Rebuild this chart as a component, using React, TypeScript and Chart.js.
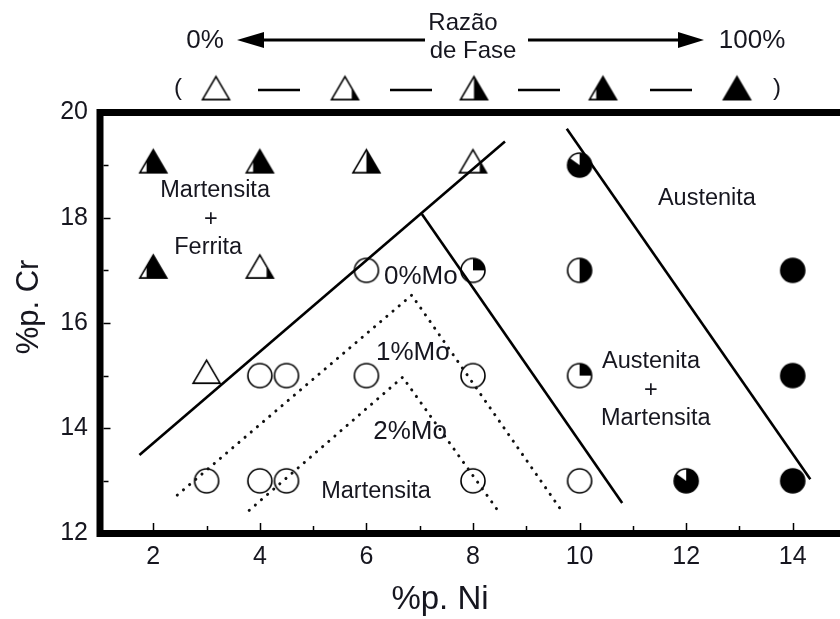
import { useEffect, useRef } from 'react';
import { Chart, registerables } from 'chart.js';

Chart.register(...registerables);

// Axis ranges (wt.%)
const niRange = [1, 15];
const crRange = [12, 20];

// Triangles: ferrite-bearing samples, fill = phase ratio
const triangleNi = [2, 4, 6, 8, 2, 4, 3];
const triangleCr = [19, 19, 19, 19, 17, 17, 15];
const triangleFill = [0.75, 0.75, 0.5, 0.25, 0.75, 0.25, 0];

// Circles: martensite / austenite samples, fill = phase ratio
const circleNi = [10, 6, 8, 10, 14, 4, 4.5, 6, 8, 10, 14, 3, 4, 4.5, 8, 10, 12, 14];
const circleCr = [19, 17, 17, 17, 17, 15, 15, 15, 15, 15, 15, 13, 13, 13, 13, 13, 13, 13];
const circleFill = [0.85, 0, 0.25, 0.5, 1, 0, 0, 0, 0, 0.25, 1, 0, 0, 0, 0, 0, 0.85, 1];

// Phase boundaries
const ferriteNi = [1.74, 8.6];
const ferriteCr = [13.49, 19.45];
const martensiteNi = [7.04, 10.8];
const martensiteCr = [18.07, 12.58];
const austeniteNi = [9.76, 14.33];
const austeniteCr = [19.69, 13.03];
const mo1Ni = [2.45, 6.85, 9.63];
const mo1Cr = [12.73, 16.53, 12.48];
const mo2Ni = [3.8, 6.68, 8.45];
const mo2Cr = [12.44, 14.97, 12.46];

// Region labels
const regionText = ['Martensita', '+', 'Ferrita', 'Austenita', 'Martensita', 'Austenita', '+', 'Martensita'];
const regionNi = [3.16, 3.08, 3.03, 12.39, 6.18, 11.34, 11.34, 11.43];
const regionCr = [18.51, 17.96, 17.44, 18.36, 12.79, 15.26, 14.71, 14.19];

// Mo-content labels for the boundaries
const moText = ['0%Mo', '1%Mo', '2%Mo'];
const moNi = [7.02, 6.87, 6.82];
const moCr = [16.87, 15.43, 13.93];

// Phase-ratio key (0% ... 100%)
const keyFill = [0, 0.25, 0.5, 0.75, 1];

const xTitle = '%p. Ni';
const yTitle = '%p. Cr';

const FONT = '"Liberation Sans", Arial, sans-serif';
const INK = '#16161f';

function makeTriangle(frac: number, w = 27, h = 23, lw = 1.6): HTMLCanvasElement {
  const c = document.createElement('canvas');
  const top = (2 * h) / 3;
  c.width = Math.ceil(w + 6);
  c.height = Math.ceil(2 * top + 6);
  const ctx = c.getContext('2d')!;
  const cx = c.width / 2;
  const cy = c.height / 2;
  const path = () => {
    ctx.beginPath();
    ctx.moveTo(cx, cy - top);
    ctx.lineTo(cx + w / 2, cy + h / 3);
    ctx.lineTo(cx - w / 2, cy + h / 3);
    ctx.closePath();
  };
  path();
  ctx.fillStyle = '#fff';
  ctx.fill();
  if (frac > 0) {
    ctx.save();
    path();
    ctx.clip();
    ctx.fillStyle = '#000';
    const x0 = cx - w / 2 + (1 - frac) * w;
    ctx.fillRect(x0, 0, c.width, c.height);
    ctx.restore();
  }
  path();
  ctx.lineWidth = lw;
  ctx.lineJoin = 'miter';
  ctx.strokeStyle = '#000';
  ctx.stroke();
  return c;
}

function makeCircle(frac: number, r = 12, lw = 1.6): HTMLCanvasElement {
  const c = document.createElement('canvas');
  c.width = c.height = Math.ceil(2 * r + 6);
  const ctx = c.getContext('2d')!;
  const cx = c.width / 2;
  ctx.beginPath();
  ctx.arc(cx, cx, r, 0, Math.PI * 2);
  ctx.fillStyle = '#fff';
  ctx.fill();
  if (frac > 0) {
    ctx.beginPath();
    ctx.moveTo(cx, cx);
    ctx.arc(cx, cx, r, -Math.PI / 2, -Math.PI / 2 + frac * Math.PI * 2);
    ctx.closePath();
    ctx.fillStyle = '#000';
    ctx.fill();
  }
  ctx.beginPath();
  ctx.arc(cx, cx, r, 0, Math.PI * 2);
  ctx.lineWidth = lw;
  ctx.strokeStyle = '#000';
  ctx.stroke();
  return c;
}

const pts = (xs: number[], ys: number[], fs?: number[]) =>
  xs.map((x, i) => ({ x, y: ys[i], f: fs ? fs[i] : 0 }));

export default function App() {
  const ref = useRef<HTMLCanvasElement>(null);

  useEffect(() => {
    const canvas = ref.current!;
    const triCache = new Map<number, HTMLCanvasElement>();
    const cirCache = new Map<number, HTMLCanvasElement>();
    const tri = (f: number) => {
      if (!triCache.has(f)) triCache.set(f, makeTriangle(f));
      return triCache.get(f)!;
    };
    const cir = (f: number) => {
      if (!cirCache.has(f)) cirCache.set(f, makeCircle(f));
      return cirCache.get(f)!;
    };

    const solid = (xs: number[], ys: number[]) => ({
      type: 'scatter' as const,
      data: pts(xs, ys),
      showLine: true,
      borderColor: '#000',
      borderWidth: 2.6,
      pointRadius: 0,
      order: 0,
    });
    const dotted = (xs: number[], ys: number[]) => ({
      type: 'scatter' as const,
      data: pts(xs, ys),
      showLine: true,
      borderColor: '#111',
      borderWidth: 3,
      borderDash: [0.1, 8],
      borderCapStyle: 'round' as const,
      pointRadius: 0,
      order: 0,
    });

    const decorations = {
      id: 'decorations',
      afterDatasetsDraw(chart: Chart) {
        const { ctx, chartArea: a } = chart;
        const xs = chart.scales.x;
        const ys = chart.scales.y;
        ctx.save();
        // region labels
        ctx.fillStyle = INK;
        ctx.textAlign = 'center';
        ctx.textBaseline = 'middle';
        ctx.font = `23.5px ${FONT}`;
        regionText.forEach((t, i) => {
          ctx.fillText(t, xs.getPixelForValue(regionNi[i]), ys.getPixelForValue(regionCr[i]));
        });
        ctx.font = `26px ${FONT}`;
        moText.forEach((t, i) => {
          ctx.fillText(t, xs.getPixelForValue(moNi[i]), ys.getPixelForValue(moCr[i]));
        });
        // frame
        ctx.strokeStyle = '#000';
        ctx.lineWidth = 7;
        ctx.strokeRect(a.left, a.top, a.right - a.left, a.bottom - a.top);
        // inward ticks
        ctx.lineWidth = 1.5;
        ctx.beginPath();
        for (let v = niRange[0] + 1; v < niRange[1]; v++) {
          const px = Math.round(xs.getPixelForValue(v)) + 0.5;
          const len = v % 2 === 0 ? 7 : 4;
          ctx.moveTo(px, a.bottom - 3.5);
          ctx.lineTo(px, a.bottom - 3.5 - len);
        }
        for (let v = crRange[0] + 1; v < crRange[1]; v++) {
          const py = Math.round(ys.getPixelForValue(v)) + 0.5;
          const len = v % 2 === 0 ? 7 : 5;
          ctx.moveTo(a.left + 3.5, py);
          ctx.lineTo(a.left + 3.5 + len, py);
        }
        ctx.stroke();
        ctx.restore();
      },
      afterDraw(chart: Chart) {
        const { ctx } = chart;
        ctx.save();
        ctx.fillStyle = INK;
        ctx.textAlign = 'center';
        ctx.textBaseline = 'middle';
        // axis titles
        ctx.font = `33px ${FONT}`;
        ctx.fillText(xTitle, 440, 600);
        ctx.save();
        ctx.translate(29, 307);
        ctx.rotate(-Math.PI / 2);
        ctx.font = `31px ${FONT}`;
        ctx.fillText(yTitle, 0, 0);
        ctx.restore();
        // phase-ratio header
        ctx.font = `26px ${FONT}`;
        ctx.fillText('0%', 205, 41);
        ctx.fillText('100%', 752, 41);
        ctx.font = `24px ${FONT}`;
        ctx.fillText('Razão', 463, 23);
        ctx.fillText('de Fase', 473, 51);
        ctx.fillText('(', 178, 88);
        ctx.fillText(')', 777, 88);
        // arrows
        ctx.strokeStyle = '#000';
        ctx.fillStyle = '#000';
        ctx.lineWidth = 3;
        ctx.beginPath();
        ctx.moveTo(258, 40);
        ctx.lineTo(425, 40);
        ctx.moveTo(528, 40);
        ctx.lineTo(682, 40);
        ctx.stroke();
        ctx.beginPath();
        ctx.moveTo(237, 40);
        ctx.lineTo(264, 32);
        ctx.lineTo(264, 48);
        ctx.closePath();
        ctx.moveTo(704, 40);
        ctx.lineTo(678, 32);
        ctx.lineTo(678, 48);
        ctx.closePath();
        ctx.fill();
        // key
        const keyX = [216, 345, 474, 603, 737];
        keyFill.forEach((f, i) => {
          const img = tri(f);
          ctx.drawImage(img, keyX[i] - img.width / 2, 92 - img.height / 2);
        });
        ctx.lineWidth = 2.5;
        ctx.beginPath();
        [[258, 300], [390, 432], [518, 560], [650, 692]].forEach(([x0, x1]) => {
          ctx.moveTo(x0, 90);
          ctx.lineTo(x1, 90);
        });
        ctx.stroke();
        ctx.restore();
      },
    };

    const chart = new Chart(canvas, {
      type: 'scatter',
      data: {
        datasets: [
          solid(ferriteNi, ferriteCr),
          solid(martensiteNi, martensiteCr),
          solid(austeniteNi, austeniteCr),
          dotted(mo1Ni, mo1Cr),
          dotted(mo2Ni, mo2Cr),
          {
            data: pts(triangleNi, triangleCr, triangleFill),
            pointStyle: (c: any) => tri(c.raw ? c.raw.f : 0),
            order: 1,
          },
          {
            data: pts(circleNi, circleCr, circleFill),
            pointStyle: (c: any) => cir(c.raw ? c.raw.f : 0),
            order: 1,
          },
        ] as any,
      },
      options: {
        responsive: false,
        animation: false,
        events: [],
        layout: { padding: { top: 112.5, right: 14, left: 0, bottom: 0 } },
        plugins: { legend: { display: false }, tooltip: { enabled: false } },
        scales: {
          x: {
            type: 'linear',
            min: niRange[0],
            max: niRange[1],
            afterFit: (s: any) => {
              s.height = 85.5;
            },
            border: { display: false },
            grid: { display: false, drawTicks: false },
            ticks: {
              stepSize: 1,
              autoSkip: false,
              maxRotation: 0,
              padding: 9,
              color: INK,
              font: { family: FONT, size: 25 },
              callback: (v: any) => (Number(v) % 2 === 0 ? String(v) : ''),
            },
          },
          y: {
            type: 'linear',
            min: crRange[0],
            max: crRange[1],
            afterFit: (s: any) => {
              s.width = 100;
            },
            border: { display: false },
            grid: { display: false, drawTicks: false },
            ticks: {
              stepSize: 1,
              autoSkip: false,
              padding: 12,
              color: INK,
              font: { family: FONT, size: 25 },
              callback: (v: any) => (Number(v) % 2 === 0 ? String(v) : ''),
            },
          },
        },
      },
      plugins: [decorations as any],
    });
    return () => chart.destroy();
  }, []);

  return (
    <div
      style={{
        position: 'fixed',
        left: 0,
        top: 0,
        width: 840,
        height: 619,
        overflow: 'hidden',
        background: '#fff',
      }}
    >
      <canvas ref={ref} width={860} height={619} style={{ display: 'block', width: 860, height: 619 }} />
    </div>
  );
}
